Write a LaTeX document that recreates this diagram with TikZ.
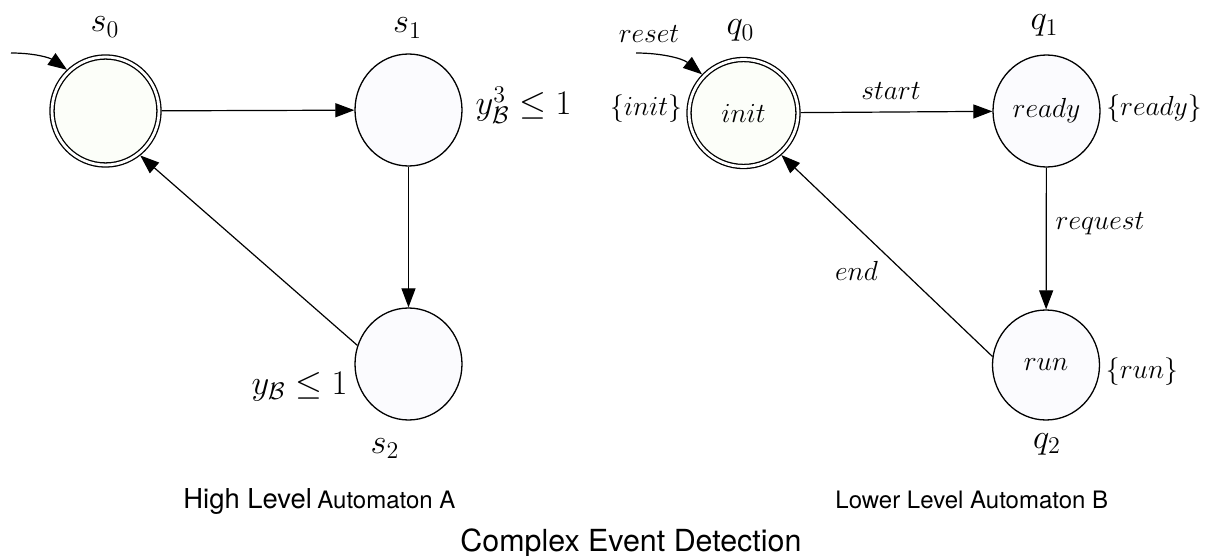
\RequirePackage{fix-cm}
\documentclass[tikz,border=0pt]{standalone}
\usepackage{fontspec}
\usetikzlibrary{shapes.geometric,arrows.meta}
\newfontfamily\helv{TeX Gyre Heros}
\definecolor{initfill}{RGB}{252,254,249}
\definecolor{statefill}{RGB}{251,251,254}
\begin{document}
\begin{tikzpicture}[x=0.5pt,y=-0.5pt,
  state/.style={draw, ellipse, line width=0.65pt, fill=statefill, inner sep=0pt,
    minimum width=53.5pt, minimum height=56pt, font=\fontsize{13.8}{16}\selectfont},
  accept/.style={state, fill=initfill, double, double distance=1.4pt, outer sep=1.3pt,
    minimum width=53.5pt, minimum height=54pt},
  edge/.style={line width=0.6pt, -{Triangle[length=9.5pt,width=7pt]}},
  mlabel/.style={font=\fontsize{17.28}{20}\selectfont, inner sep=0pt, anchor=base},
  elabel/.style={font=\fontsize{13.8}{16}\selectfont, inner sep=0pt, anchor=base},
  captext/.style={inner sep=0pt, anchor=base west}]
\useasboundingbox (0,0) rectangle (1205,556);
\fill[white] (0,0) rectangle (1205,556);

% High level automaton A
\node[accept] (s0) at (105.5,111) {};
\node[state] (s1) at (408.5,110) {};
\node[state] (s2) at (408.5,364) {};
\node[mlabel] (ls0) at (105,32) {$s_0$};
\node[mlabel] (ls1) at (407.5,33) {$s_1$};
\node[mlabel] (ls2) at (385,453) {$s_2$};
\node[mlabel] (inv1) at (523.5,115) {$y^3_{\mathcal{B}}\le 1$};
\node[mlabel] (inv2) at (299.5,394) {$y_{\mathcal{B}}\le 1$};
\coordinate (a0) at (11,53);
\draw[edge] (a0) .. controls (35,53) and (50,58) .. (s0.133);
\draw[edge] (s0) -- (s1);
\draw[edge] (s1) -- (s2);
\draw[edge] (s2.160) -- (s0.308);

% Lower level automaton B
\node[accept, minimum width=54.5pt, minimum height=53.5pt] (q0) at (743.5,113) {$init$};
\node[state] (q1) at (1046.5,111) {$ready$};
\node[state, minimum height=55pt] (q2) at (1046,365) {$run$};
\node[mlabel] (lq0) at (740.5,35) {$q_0$};
\node[mlabel] (lq1) at (1044.5,30) {$q_1$};
\node[mlabel] (lq2) at (1047,448) {$q_2$};
\node[elabel] (reset) at (649,43) {$reset$};
\node[elabel] (pinit) at (646,116) {$\{init\}$};
\node[elabel] (pready) at (1154,116) {$\{ready\}$};
\node[elabel] (prun) at (1142,378) {$\{run\}$};
\coordinate (b0) at (636,53);
\draw[edge] (b0) .. controls (660,53) and (682,58) .. (q0.137);
\draw[edge] (q0) -- (q1) node[elabel] (start) at (891,100) {$start$};
\draw[edge] (q1) -- (q2) node[elabel] (request) at (1100,229) {$request$};
\draw[edge] (q2.171) -- (q0.312) node[elabel] (end) at (856.5,280) {$end$};

% captions
\node[captext] (capA) at (183,508) {\helv{\fontsize{13.7}{16}\selectfont High Level} {\fontsize{12}{14}\selectfont Automaton A}};
\node[captext] (capB) at (835,508) {\helv\fontsize{12}{14}\selectfont Lower Level Automaton B};
\node[captext] (capC) at (460,551) {\helv\fontsize{15.2}{18}\selectfont Complex Event Detection};
\end{tikzpicture}
\end{document}
